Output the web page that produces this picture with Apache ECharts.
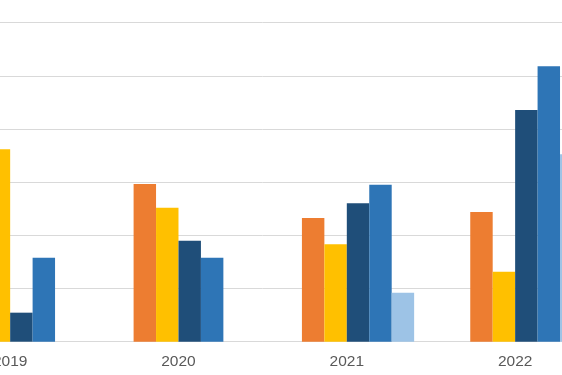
<!DOCTYPE html>
<html>
<head>
<meta charset="utf-8">
<script src="https://cdn.jsdelivr.net/npm/echarts@6/dist/echarts.min.js"></script>
<style>
html,body{margin:0;padding:0;width:562px;height:375px;overflow:hidden;background:#fff;}
#chart{position:absolute;left:-174px;top:0;width:900px;height:375px;}
</style>
</head>
<body>
<div id="chart"></div>
<script>
var categories = ['2019', '2020', '2021', '2022'];
var seriesHidden = [null, null, null, null];
var seriesOrange = [16.5, 14.83, 11.63, 12.2];
var seriesYellow = [18.09, 12.6, 9.16, 6.58];
var seriesDark = [2.73, 9.5, 13.02, 21.79];
var seriesMid = [7.9, 7.9, 14.77, 25.9];
var seriesLight = [null, null, 4.61, 17.64];
var yTicks = [0, 5, 10, 15, 20, 25, 30];

var chart = echarts.init(document.getElementById('chart'), null, {renderer: 'canvas'});
function bar(name, data, color) {
  return {
    name: name, type: 'bar', data: data,
    barGap: '0%', barCategoryGap: '20%',
    itemStyle: {color: color},
    animation: false
  };
}
chart.setOption({
  animation: false,
  grid: {left: 100, top: 22.7, width: 673.3, height: 319, containLabel: false},
  xAxis: {
    type: 'category', data: categories,
    axisLine: {show: true, lineStyle: {color: '#d9d9d9', width: 1}},
    axisTick: {show: false},
    axisLabel: {color: '#595959', fontSize: 15.5, fontFamily: 'Liberation Sans, Arial, sans-serif', margin: 12}
  },
  yAxis: {
    type: 'value', min: yTicks[0], max: yTicks[yTicks.length - 1], interval: yTicks[1] - yTicks[0],
    axisLabel: {show: false},
    axisLine: {show: false}, axisTick: {show: false},
    splitLine: {lineStyle: {color: '#d9d9d9', width: 1}}
  },
  series: [
    bar('S0', seriesHidden, '#a5a5a5'),
    bar('S1', seriesOrange, '#ED7D31'),
    bar('S2', seriesYellow, '#FFC000'),
    bar('S3', seriesDark, '#1F4E79'),
    bar('S4', seriesMid, '#2E75B6'),
    bar('S5', seriesLight, '#9DC3E6')
  ]
});
</script>
</body>
</html>
